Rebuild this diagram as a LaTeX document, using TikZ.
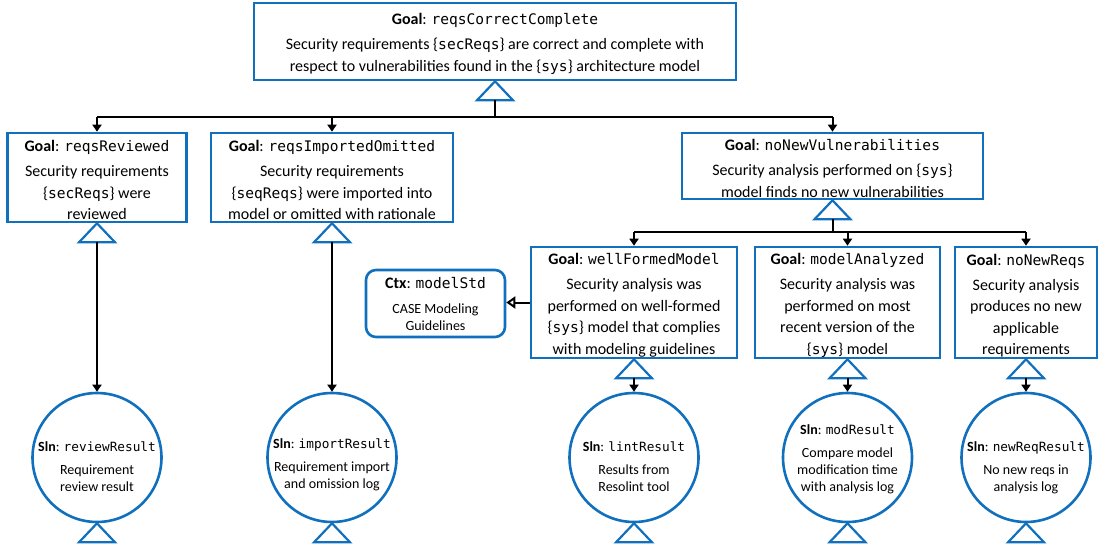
\documentclass[tikz,border=0pt]{standalone}
\usepackage{fontspec}
\setmainfont{Carlito}
\setmonofont{DejaVu Sans Mono}[Scale=0.91]
\usetikzlibrary{arrows.meta}
\definecolor{gsnblue}{RGB}{16,112,190}

\tikzset{
  goalbox/.style={draw=gsnblue, line width=2.6pt, fill=white, inner sep=0pt},
  goaltext/.style={align=center, inner sep=0pt, font=\fontsize{16}{21.5}\selectfont},
  ctxbox/.style={goalbox, rounded corners=10pt, align=center,
    font=\fontsize{14}{17}\selectfont},
  soln/.style={circle, draw=gsnblue, line width=2.6pt, fill=white,
    minimum size=129pt, inner sep=0pt},
  solntext/.style={align=center, inner sep=0pt, anchor=base,
    font=\fontsize{14}{17}\selectfont},
  suppmark/.style={draw=gsnblue, line width=2.2pt, fill=white, line join=miter},
  conn/.style={draw=black, line width=2pt},
  arr/.style={conn, -{Triangle[length=7pt,width=9pt]}},
  ctxarr/.style={conn, -{Triangle[open,length=9pt,width=12pt,line width=2pt]}},
}

% hollow "supported by" triangle hanging under a node; #2 names its base point
\newcommand\suppmark[2]{%
  \draw[suppmark] (#1.south) -- ++(-18,19) -- ++(36,0) -- cycle;
  \path (#1.south) ++(0,19) coordinate (#2);
}
\newcommand\gtitle[2]{\textbf{#1}: \texttt{#2}}
\newcommand\bigtitle[2]{{\fontsize{16}{17}\selectfont\gtitle{#1}{#2}}}

\begin{document}
\begin{tikzpicture}[x=1pt, y=-1pt]
\useasboundingbox (0,0) rectangle (1098,546);

% goal boxes
\node[goalbox, minimum width=482pt, minimum height=77pt]  (top) at (495,41.5) {};
\node[goalbox, minimum width=179pt, minimum height=89pt]  (rev) at (97,177.5) {};
\node[goalbox, minimum width=242pt, minimum height=89pt]  (imp) at (332,177.5) {};
\node[goalbox, minimum width=301pt, minimum height=66pt]  (nnv) at (832.5,166) {};
\node[goalbox, minimum width=206pt, minimum height=111pt] (wfm) at (634,302.5) {};
\node[goalbox, minimum width=185pt, minimum height=111pt] (ma)  at (847.5,302.5) {};
\node[goalbox, minimum width=142pt, minimum height=111pt] (nnr) at (1026,302.5) {};

% goal texts, set a little below each box centre
\node[goaltext] (toptxt) at ([yshift=-2.5pt]top.center)
  {\gtitle{Goal}{reqsCorrectComplete}\\[3.5pt]
   Security requirements \{\texttt{secReqs}\} are correct and complete with\\
   respect to vulnerabilities found in the \{\texttt{sys}\} architecture model};
\node[goaltext] (revtxt) at ([yshift=-2.5pt]rev.center)
  {\gtitle{Goal}{reqsReviewed}\\[3.5pt]
   Security requirements\\ \{\texttt{secReqs}\} were\\ reviewed};
\node[goaltext] (imptxt) at ([yshift=-2.5pt]imp.center)
  {\gtitle{Goal}{reqsImportedOmitted}\\[3.5pt]
   Security requirements\\ \{\texttt{seqReqs}\} were imported into\\
   model or omitted with rationale};
\node[goaltext] (nnvtxt) at ([yshift=-2.5pt]nnv.center)
  {\gtitle{Goal}{noNewVulnerabilities}\\[3.5pt]
   Security analysis performed on \{\texttt{sys}\}\\
   model finds no new vulnerabilities};
\node[goaltext] (wfmtxt) at ([yshift=-3pt]wfm.center)
  {\gtitle{Goal}{wellFormedModel}\\[3.5pt]
   Security analysis was\\ performed on well-formed\\
   \{\texttt{sys}\} model that complies\\ with modeling guidelines};
\node[goaltext] (matxt) at ([yshift=-3pt]ma.center)
  {\gtitle{Goal}{modelAnalyzed}\\[3.5pt]
   Security analysis was\\ performed on most\\
   recent version of the\\ \{\texttt{sys}\} model};
\node[goaltext] (nnrtxt) at ([yshift=-3pt]nnr.center)
  {\gtitle{Goal}{noNewReqs}\\[3.5pt]
   Security analysis\\ produces no new\\ applicable\\ requirements};

% context
\node[ctxbox, minimum width=139pt, minimum height=67pt] (ctx) at (435.5,303.5)
  {\bigtitle{Ctx}{modelStd}\\[8pt]
   CASE Modeling\\ Guidelines};

% solutions
\node[soln] (srev) at (97,457.5) {};
\node[soln] (simp) at (332,457.5) {};
\node[soln] (slint) at (634,457.5) {};
\node[soln] (smod) at (847.5,457.5) {};
\node[soln] (snew) at (1026,457.5) {};

% solution texts, placed by the baseline of their last line
\node[solntext] (trevtxt) at (97,491)
  {\gtitle{Sln}{reviewResult}\\[6pt] Requirement\\ review result};
\node[solntext] (timptxt) at (332,488)
  {\gtitle{Sln}{importResult}\\[6pt] Requirement import\\ and omission log};
\node[solntext] (tlinttxt) at (634,491)
  {\gtitle{Sln}{lintResult}\\[6pt] Results from\\ Resolint tool};
\node[solntext] (tmodtxt) at (847.5,491)
  {\gtitle{Sln}{modResult}\\[6pt] Compare model\\ modification time\\ with analysis log};
\node[solntext] (tnewtxt) at (1026,491)
  {\gtitle{Sln}{newReqResult}\\[6pt] No new reqs in\\ analysis log};

% support triangles
\suppmark{top}{ttop}
\suppmark{rev}{trev}
\suppmark{imp}{timp}
\suppmark{nnv}{tnnv}
\suppmark{wfm}{twfm}
\suppmark{ma}{tma}
\suppmark{nnr}{tnnr}
\suppmark{srev}{tsrev}
\suppmark{simp}{tsimp}
\suppmark{slint}{tslint}
\suppmark{smod}{tsmod}
\suppmark{snew}{tsnew}

% top-level decomposition
\path (ttop) ++(0,17) coordinate (busA);
\draw[conn] (ttop) -- (busA);
\draw[conn] (rev.north |- busA) -- (nnv.north |- busA);
\draw[arr] (rev.north |- busA) -- (rev.north);
\draw[arr] (imp.north |- busA) -- (imp.north);
\draw[arr] (nnv.north |- busA) -- (nnv.north);

% analysis decomposition
\path (tnnv) ++(0,13) coordinate (busB);
\draw[conn] (tnnv) -- (busB);
\draw[conn] (wfm.north |- busB) -- (nnr.north |- busB);
\draw[arr] (wfm.north |- busB) -- (wfm.north);
\draw[arr] (ma.north |- busB) -- (ma.north);
\draw[arr] (nnr.north |- busB) -- (nnr.north);

% evidence
\draw[arr] (trev) -- (srev.north);
\draw[arr] (timp) -- (simp.north);
\draw[arr] (twfm) -- (slint.north);
\draw[arr] (tma) -- (smod.north);
\draw[arr] (tnnr) -- (snew.north);

% context link
\draw[ctxarr] (wfm.west) -- (wfm.west -| ctx.east);
\end{tikzpicture}
\end{document}
